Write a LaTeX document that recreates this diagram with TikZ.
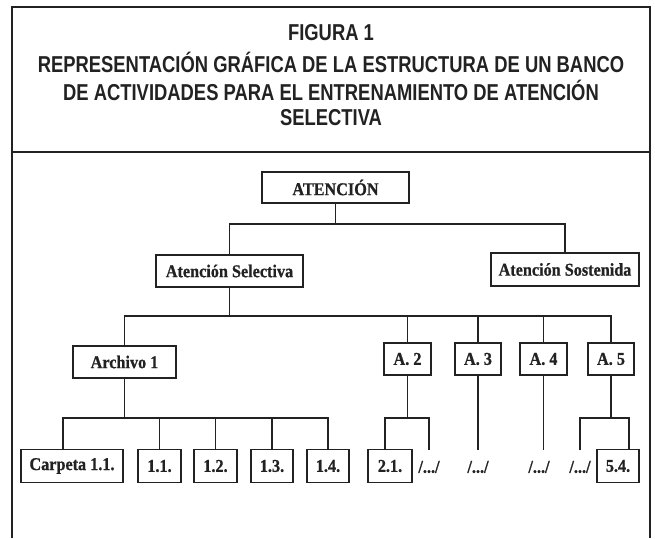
\documentclass[tikz,border=0pt]{standalone}
\usepackage{fontspec}
\setmainfont{Liberation Serif}
\newfontfamily\titlefont[FakeStretch=0.8]{Liberation Sans}
\newfontfamily\boxfont[FakeStretch=0.9,BoldFeatures={FakeBold=0.8}]{Liberation Serif}
\definecolor{ink}{HTML}{222222}
\begin{document}
\begin{tikzpicture}[x=1pt,y=-1pt,
  frame/.style={line width=2.4pt,draw=ink},
  conn/.style={line width=1.2pt,draw=ink},
  bx/.style={draw=ink,line width=1.2pt,inner sep=0pt,minimum height=32pt,
     font=\boxfont\fontsize{18}{20}\selectfont\bfseries,text=ink},
  dots/.style={inner sep=0pt,minimum height=33pt,minimum width=20pt,
     font=\boxfont\fontsize{18}{20}\selectfont\bfseries,text=ink},
  ttl/.style={inner sep=0pt,text=ink,font=\titlefont\fontsize{23}{28}\selectfont\bfseries}]
\useasboundingbox (0,0) rectangle (655,538);
% frame
\draw[frame] (12,538) -- (12,7) -- (650,7) -- (650,538);
\draw[frame] (12,152) -- (650,152);
% title
\node[ttl] (t1) at (331,33) {FIGURA 1};
\node[ttl] (t2) at (331,62) {REPRESENTACIÓN GRÁFICA DE LA ESTRUCTURA DE UN BANCO};
\node[ttl] (t3) at (331,90) {DE ACTIVIDADES PARA EL ENTRENAMIENTO DE ATENCIÓN};
\node[ttl] (t4) at (331,118) {SELECTIVA};
% nodes
\node[bx,minimum width=147pt,minimum height=31pt] (aten) at (335.5,187.5) {ATENCIÓN};
\node[bx,minimum width=147pt] (sel) at (229.5,271) {Atención Selectiva};
\node[bx,minimum width=148pt,minimum height=33pt] (sos) at (565,269.5) {Atención Sostenida};
\node[bx,minimum width=103pt] (arch) at (124.5,362) {Archivo 1};
\node[bx,minimum width=47pt] (a2) at (407.5,359) {A. 2};
\node[bx,minimum width=46pt] (a3) at (478,359) {A. 3};
\node[bx,minimum width=47pt] (a4) at (543.5,359) {A. 4};
\node[bx,minimum width=46pt] (a5) at (611,359) {A. 5};
\node[bx,minimum width=102pt,minimum height=33pt] (carp) at (72,466) {Carpeta 1.1.};
\node[bx,minimum width=43pt,minimum height=33pt] (b11) at (159.5,466) {1.1.};
\node[bx,minimum width=43pt,minimum height=33pt] (b12) at (215.5,466) {1.2.};
\node[bx,minimum width=42pt,minimum height=33pt] (b13) at (272,466) {1.3.};
\node[bx,minimum width=42pt,minimum height=33pt] (b14) at (328,466) {1.4.};
\node[bx,minimum width=44pt,minimum height=33pt] (b21) at (390,466) {2.1.};
\node[bx,minimum width=42pt,minimum height=33pt] (b54) at (618,466) {5.4.};
\node[dots] (d2) at (429,467) {/.../};
\node[dots] (d3) at (478,467) {/.../};
\node[dots] (d4) at (539,467) {/.../};
\node[dots] (d5) at (580,467) {/.../};
% buses
\coordinate (bus1) at (335.5,224);
\coordinate (bus2) at (229.5,316);
\coordinate (bus3) at (124.5,418);
\coordinate (bus4) at (407.5,418);
\coordinate (bus5) at (611,418);
% connectors
\draw[conn] (aten.south) -- (bus1);
\draw[conn] (sel.north) |- (bus1) -| (sos.north);
\draw[conn] (sel.south) -- (bus2);
\draw[conn] (arch.north) |- (bus2) -| (a5.north);
\draw[conn] (a2.north) -- (a2.north |- bus2);
\draw[conn] (a3.north) -- (a3.north |- bus2);
\draw[conn] (a4.north) -- (a4.north |- bus2);
\draw[conn] (arch.south) -- (bus3);
\draw[conn] ([xshift=-9pt]carp.north) |- (bus3) -| (b14.north);
\draw[conn] (b11.north) -- (b11.north |- bus3);
\draw[conn] (b12.north) -- (b12.north |- bus3);
\draw[conn] (b13.north) -- (b13.north |- bus3);
\draw[conn] (a2.south) -- (bus4);
\draw[conn] ([xshift=-5pt]b21.north) |- (bus4) -| (d2.north);
\draw[conn] (a3.south) -- (d3.north);
\draw[conn] (a4.south) -- (a4.south |- d4.north);
\draw[conn] (a5.south) -- (bus5);
\draw[conn] (d5.north) |- (bus5) -| ([xshift=11pt]b54.north);
\end{tikzpicture}
\end{document}
